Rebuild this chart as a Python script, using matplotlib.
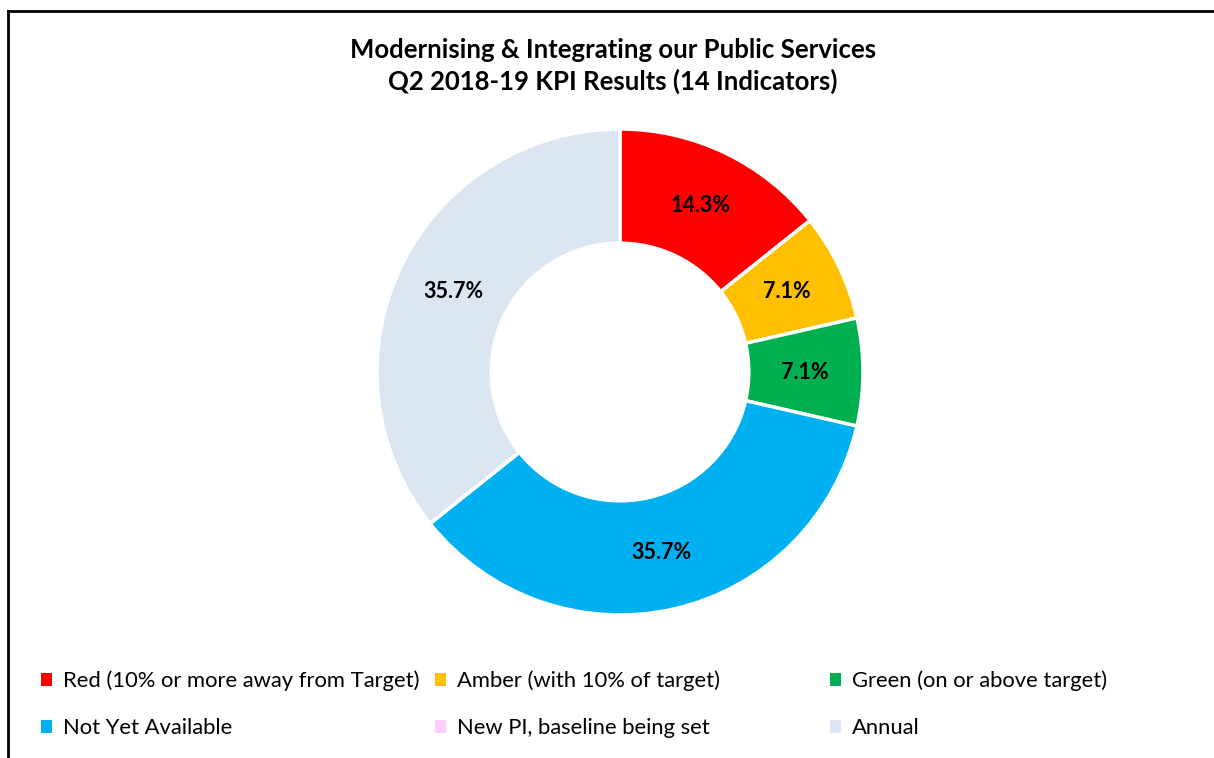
import matplotlib
matplotlib.use("Agg")
import matplotlib.pyplot as plt
from matplotlib.patches import Patch
from matplotlib.lines import Line2D

plt.rcParams['font.family'] = ['Lato', 'DejaVu Sans']

# data
labels = ['Red (10% or more away from Target)', 'Amber (with 10% of target)',
          'Green (on or above target)', 'Not Yet Available',
          'New PI, baseline being set', 'Annual']
counts = [2, 1, 1, 5, 0, 5]
colors = ['#FF0000', '#FFC000', '#00B050', '#00B0F0', '#FFCCFF', '#DCE6F2']

fig = plt.figure(figsize=(12.14, 7.58), dpi=100)

# frame lines (left and top only visible)
fig.add_artist(Line2D([0.0066, 0.0066], [0, 0.985], transform=fig.transFigure, color='black', lw=2))
fig.add_artist(Line2D([0.0066, 1.0], [0.985, 0.985], transform=fig.transFigure, color='black', lw=2))

fig.text(0.505, 1 - 66 / 758, 'Modernising & Integrating our Public Services\nQ2 2018-19 KPI Results (14 Indicators)',
         ha='center', va='center', fontsize=18.5, fontweight='bold', linespacing=1.3)

# donut: centre (620, 372) radius 243 px
r = 243
ax = fig.add_axes([(620 - r) / 1214, (758 - 372 - r) / 758, 2 * r / 1214, 2 * r / 758])

def fmt(p):
    return '%.1f%%' % p if p > 0 else ''

wedges, texts, autotexts = ax.pie(counts, colors=colors, startangle=90, counterclock=False,
                                  autopct=fmt, pctdistance=0.76, radius=1.0,
                                  wedgeprops=dict(width=0.47, edgecolor='white', linewidth=2.5),
                                  textprops=dict(fontsize=15.5, fontweight='bold', color='black'))
ax.set_xlim(-1, 1)
ax.set_ylim(-1, 1)
ax.set_aspect('equal')

# legend in three columns
cols = [(0, 3), (1, 4), (2, 5)]
xs = [32 / 1214, 426 / 1214, 821 / 1214]
for (i, j), x in zip(cols, xs):
    handles = [Patch(facecolor=colors[k], edgecolor='none') for k in (i, j)]
    fig.legend(handles, [labels[i], labels[j]], loc='upper left', bbox_to_anchor=(x, 1 - 662 / 758),
               frameon=False, fontsize=15.8, handlelength=0.5, handleheight=0.5, handletextpad=0.5,
               labelspacing=1.23, borderaxespad=0)

fig.savefig('out.png', dpi=100, facecolor='white')
